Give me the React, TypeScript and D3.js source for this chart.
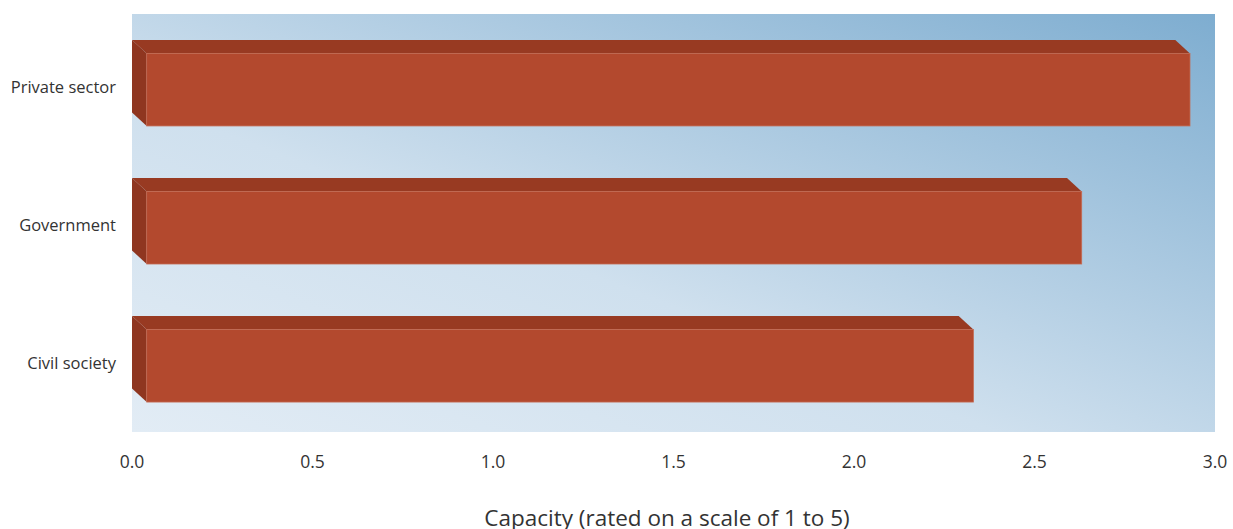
import React from "react";
import * as d3 from "d3";

const categories = ["Private sector", "Government", "Civil society"];
const values = [2.89, 2.59, 2.29];
const ticks = [0, 0.5, 1.0, 1.5, 2.0, 2.5, 3.0];
const axisTitle = "Capacity (rated on a scale of 1 to 5)";

const W = 1233;
const H = 529;
const plot = { left: 132, right: 1215, top: 14, bottom: 432 };
const depthX = 14.7;
const depthY = 13.5;
const font = "'Open Sans', 'Noto Sans', sans-serif";

export default function App() {
  const x = d3.scaleLinear().domain([0, 3]).range([plot.left, plot.right]);
  const y = d3
    .scaleBand<string>()
    .domain(categories)
    .range([plot.top, 428])
    .paddingInner(0.377)
    .paddingOuter(0.188);

  return (
    <svg
      width={W}
      height={H}
      style={{ position: "fixed", left: 0, top: 0, background: "#fff" }}
    >
      <defs>
        <linearGradient id="bg" x1="0" y1="1" x2="1" y2="0">
          <stop offset="0" stopColor="#e2ecf5" />
          <stop offset="0.4" stopColor="#cfe0ee" />
          <stop offset="1" stopColor="#7eadd0" />
        </linearGradient>
      </defs>
      <rect
        x={plot.left}
        y={plot.top}
        width={plot.right - plot.left}
        height={plot.bottom - plot.top}
        fill="url(#bg)"
      />
      {categories.map((c, i) => {
        const y0 = y(c) as number;
        const bw = y.bandwidth();
        const xb0 = x(0);
        const xb1 = x(values[i]);
        const fy0 = y0 + depthY;
        const fy1 = y0 + bw;
        const left = [
          [xb0, y0],
          [xb0 + depthX, fy0],
          [xb0 + depthX, fy1],
          [xb0, fy1 - depthY],
        ];
        const top = [
          [xb0, y0],
          [xb1, y0],
          [xb1 + depthX, fy0],
          [xb0 + depthX, fy0],
        ];
        const pts = (p: number[][]) => p.map((q) => q.join(",")).join(" ");
        return (
          <g key={c}>
            <polygon points={pts(left)} fill="#8f3620" />
            <polygon points={pts(top)} fill="#983a22" />
            <rect
              x={xb0 + depthX}
              y={fy0}
              width={xb1 - xb0}
              height={fy1 - fy0}
              fill="#b3492e"
              stroke="#c46a52"
              strokeWidth={0.8}
            />
            <text
              x={116}
              y={y0 + bw / 2 + 10}
              textAnchor="end"
              fontFamily={font}
              fontSize={16.5}
              fill="#333"
            >
              {c}
            </text>
          </g>
        );
      })}
      {ticks.map((t) => (
        <text
          key={t}
          x={x(t)}
          y={468}
          textAnchor="middle"
          fontFamily={font}
          fontSize={17.5}
          fill="#333"
        >
          {d3.format(".1f")(t)}
        </text>
      ))}
      <text
        x={667}
        y={526}
        textAnchor="middle"
        fontFamily={font}
        fontSize={22.5}
        fill="#333"
      >
        {axisTitle}
      </text>
    </svg>
  );
}
